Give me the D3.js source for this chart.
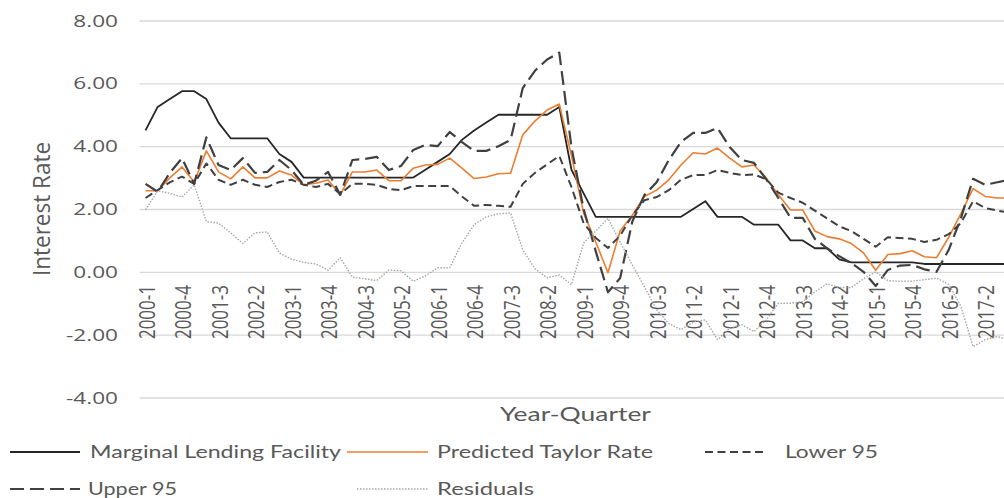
<!DOCTYPE html>
<html>
<head>
<meta charset="utf-8">
<script src="https://cdn.jsdelivr.net/npm/d3@7"></script>
<style>
	body { margin: 0; background: #fff; }
	svg { display: block; }
</style>
</head>
<body>
<svg id="chart" width="1004" height="498"></svg>
<script>
// Categories (year-quarter)
const quarters = [
	"2000-1","2000-2","2000-3","2000-4","2001-1","2001-2","2001-3","2001-4",
	"2002-1","2002-2","2002-3","2002-4","2003-1","2003-2","2003-3","2003-4",
	"2004-1","2004-2","2004-3","2004-4","2005-1","2005-2","2005-3","2005-4",
	"2006-1","2006-2","2006-3","2006-4","2007-1","2007-2","2007-3","2007-4",
	"2008-1","2008-2","2008-3","2008-4","2009-1","2009-2","2009-3","2009-4",
	"2010-1","2010-2","2010-3","2010-4","2011-1","2011-2","2011-3","2011-4",
	"2012-1","2012-2","2012-3","2012-4","2013-1","2013-2","2013-3","2013-4",
	"2014-1","2014-2","2014-3","2014-4","2015-1","2015-2","2015-3","2015-4",
	"2016-1","2016-2","2016-3","2016-4","2017-1","2017-2","2017-3","2017-4"
];

// Axis labels shown (every third quarter)
const xTickLabels = [
	"2000-1","2000-4","2001-3","2002-2","2003-1","2003-4","2004-3","2005-2",
	"2006-1","2006-4","2007-3","2008-2","2009-1","2009-4","2010-3","2011-2",
	"2012-1","2012-4","2013-3","2014-2","2015-1","2015-4","2016-3","2017-2"
];
const yTicks = [8, 6, 4, 2, 0, -2, -4];

// Series values
const lendingFacility = [
	4.5, 5.25, 5.5, 5.75, 5.75, 5.5, 4.75, 4.25, 4.25, 4.25, 4.25, 3.75, 3.5, 3.0,
	3.0, 3.0, 3.0, 3.0, 3.0, 3.0, 3.0, 3.0, 3.0,
	3.25, 3.5, 3.75, 4.2, 4.5, 4.75, 5.0, 5.0, 5.0, 5.0, 5.0, 5.25,
	3.25, 2.5, 1.75,
	1.75, 1.75, 1.75, 1.75, 1.75, 1.75, 1.75,
	2.0, 2.25, 1.75, 1.75, 1.75, 1.5, 1.5, 1.5, 1.0, 1.0, 0.75, 0.75,
	0.4, 0.3, 0.3, 0.3, 0.3, 0.3, 0.3,
	0.25, 0.25, 0.25, 0.25, 0.25, 0.25, 0.25, 0.25
];
const predictedTaylor = [
	2.58, 2.58, 2.99, 3.34, 2.86, 3.85, 3.18, 2.96, 3.34, 2.99, 2.99, 3.21, 3.08, 2.77,
	2.82, 2.92, 2.45, 3.18, 3.18, 3.24, 2.9, 2.9, 3.3, 3.4, 3.42, 3.62, 3.3, 2.97, 3.02,
	3.12, 3.14, 4.36, 4.8, 5.15, 5.34, 3.7, 1.87, 0.95, -0.03, 1.3, 1.8, 2.4, 2.6,
	2.93, 3.4, 3.79, 3.75, 3.94, 3.62, 3.34, 3.4, 2.99, 2.45, 1.97, 1.97, 1.3, 1.12,
	1.05, 0.9, 0.6, 0.05, 0.55, 0.58, 0.67, 0.48, 0.45, 1.1, 1.85, 2.65, 2.4, 2.35, 2.35
];
const lower95 = [
	2.35, 2.6, 2.85, 3.03, 2.8, 3.45, 2.93, 2.77, 2.93, 2.77, 2.7, 2.86, 2.93, 2.77,
	2.7, 2.8, 2.48, 2.8, 2.8, 2.77, 2.64, 2.6, 2.73, 2.73, 2.73, 2.73, 2.4, 2.1, 2.13,
	2.1, 2.07, 2.8, 3.15, 3.42, 3.69, 2.7, 1.55, 1.08, 0.76, 1.15, 1.8, 2.28, 2.38,
	2.6, 2.93, 3.08, 3.08, 3.24, 3.15, 3.08, 3.1, 2.95, 2.52, 2.35, 2.2, 1.95, 1.7,
	1.45, 1.3, 1.05, 0.8, 1.1, 1.08, 1.05, 0.95, 1.02, 1.2, 1.55, 2.25, 2.03, 1.95, 1.88
];
const upper95 = [
	2.8, 2.55, 3.15, 3.62, 2.8, 4.28, 3.4, 3.24, 3.62, 3.15, 3.18, 3.56, 3.24, 2.77,
	2.9, 3.18, 2.45, 3.56, 3.59, 3.66, 3.24, 3.37, 3.88, 4.04, 4.0, 4.45, 4.13, 3.85, 3.85,
	4.0, 4.2, 5.85, 6.4, 6.76, 6.98, 3.97, 2.0, 0.65, -0.65, -0.2, 1.6, 2.45, 2.85,
	3.56, 4.13, 4.42, 4.42, 4.58, 3.97, 3.56, 3.47, 2.95, 2.35, 1.72, 1.72, 1.05, 0.75,
	0.5, 0.28, 0.0, -0.45, 0.06, 0.2, 0.22, 0.08, 0.0, 0.7, 1.7, 2.96, 2.77, 2.85, 2.93
];
const residuals = [
	1.97, 2.58, 2.5, 2.38, 2.77, 1.6, 1.55, 1.24, 0.9, 1.24, 1.27, 0.6, 0.4, 0.3, 0.25,
	0.05, 0.45, -0.17, -0.22, -0.28, 0.06, 0.03, -0.3, -0.13, 0.13, 0.13, 0.92, 1.5, 1.75, 1.85, 1.87,
	0.7, 0.1, -0.19, -0.1, -0.41, 0.92, 1.3, 1.7, 0.95, 0.22, -0.48, -1.2,
	-1.65, -1.84, -1.6, -1.53, -2.16, -1.8, -1.68, -1.9, -1.53, -1.0, -1.0, -0.95, -0.64, -0.38,
	-0.5, -0.5, -0.22, 0.0, -0.28, -0.3, -0.3, -0.25, -0.2, -0.4, -1.1, -2.38, -2.16, -2.06, -2.16
];

// Series styles (legend order)
const series = [
	{ name: "Marginal Lending Facility", values: lendingFacility, color: "#262626", width: 1.8, dash: null },
	{ name: "Predicted Taylor Rate", values: predictedTaylor, color: "#ed7d31", width: 1.6, dash: null },
	{ name: "Lower 95", values: lower95, color: "#404040", width: 2, dash: "8,4.5" },
	{ name: "Upper 95", values: upper95, color: "#404040", width: 2.2, dash: "14,6" },
	{ name: "Residuals", values: residuals, color: "#a6a6a6", width: 1.4, dash: "1.5,1.5" }
];

var chart = {};
chart.stretch = 1.33;   // picture is wider than tall
chart.textColor = "#595959";

let svg = d3.select("#chart");

// Scales
let step = 12.17;
let x = d3.scalePoint()
	.domain(quarters)
	.range([145.5, 145.5 + step * (quarters.length - 1)]);
let y = d3.scaleLinear()
	.domain([-4, 8])
	.range([397.5, 20.5]);

let plotLeft = 139.5,
	plotRight = 145.5 + step * (quarters.length - 1) + step / 2;

// Gridlines
svg.append("g")
	.selectAll("line")
	.data(yTicks)
	.enter()
	.append("line")
	.attr("x1", plotLeft)
	.attr("x2", plotRight)
	.attr("y1", d => y(d) + 0.5)
	.attr("y2", d => y(d) + 0.5)
	.attr("stroke", "#d9d9d9")
	.attr("stroke-width", 1.3);

// Y tick labels (plain hyphen for negatives, as in the source)
svg.append("g")
	.selectAll("text")
	.data(yTicks)
	.enter()
	.append("text")
	.attr("transform", d => "translate(118," + y(d) + ") scale(" + chart.stretch + ",1)")
	.attr("dy", "0.36em")
	.attr("text-anchor", "end")
	.style("font-family", "'Open Sans', sans-serif")
	.style("font-size", "17px")
	.style("fill", chart.textColor)
	.text(d => d.toFixed(2));

// X tick labels (rotated)
svg.append("g")
	.selectAll("text")
	.data(xTickLabels)
	.enter()
	.append("text")
	.attr("transform", d => "translate(" + (x(d) + 1) + ",285) scale(" + chart.stretch + ",1) rotate(-90)")
	.attr("dy", "0.36em")
	.attr("text-anchor", "end")
	.style("font-family", "'Open Sans', sans-serif")
	.style("font-size", "17px")
	.style("fill", chart.textColor)
	.text(d => d);

// Lines
let line = d3.line()
	.x((d, i) => x(quarters[i]))
	.y(d => y(d));

svg.append("g")
	.selectAll("path")
	.data(series)
	.enter()
	.append("path")
	.attr("d", d => line(d.values))
	.attr("fill", "none")
	.attr("stroke", d => d.color)
	.attr("stroke-width", d => d.width)
	.attr("stroke-dasharray", d => d.dash)
	.attr("stroke-linejoin", "round");

// Axis titles
svg.append("text")
	.attr("transform", "translate(41,209) scale(" + chart.stretch + ",1) rotate(-90)")
	.attr("dy", "0.36em")
	.attr("text-anchor", "middle")
	.attr("textLength", 134)
	.attr("lengthAdjust", "spacingAndGlyphs")
	.style("font-family", "'Open Sans', sans-serif")
	.style("font-size", "18px")
	.style("fill", chart.textColor)
	.text("Interest Rate");

svg.append("text")
	.attr("x", 500)
	.attr("y", 414)
	.attr("dy", "0.36em")
	.attr("textLength", 151)
	.attr("lengthAdjust", "spacingAndGlyphs")
	.style("font-family", "Lato, sans-serif")
	.style("font-size", "19px")
	.style("fill", chart.textColor)
	.text("Year-Quarter");

// Legend
const legendPos = [
	{ lx: 10, lw: 70, tx: 90, tw: 251, y: 452 },
	{ lx: 347, lw: 81, tx: 437, tw: 216, y: 452 },
	{ lx: 705, lw: 60, tx: 785, tw: 93, y: 452 },
	{ lx: 10, lw: 70, tx: 88, tw: 89, y: 489 },
	{ lx: 357, lw: 71, tx: 437, tw: 97, y: 489 }
];

let legend = svg.append("g")
	.selectAll("g")
	.data(series)
	.enter()
	.append("g");

legend.append("line")
	.attr("x1", (d, i) => legendPos[i].lx)
	.attr("x2", (d, i) => legendPos[i].lx + legendPos[i].lw)
	.attr("y1", (d, i) => legendPos[i].y)
	.attr("y2", (d, i) => legendPos[i].y)
	.attr("stroke", d => d.color)
	.attr("stroke-width", d => d.width)
	.attr("stroke-dasharray", d => d.dash);

legend.append("text")
	.attr("x", (d, i) => legendPos[i].tx)
	.attr("y", (d, i) => legendPos[i].y)
	.attr("dy", "0.36em")
	.attr("textLength", (d, i) => legendPos[i].tw)
	.attr("lengthAdjust", "spacingAndGlyphs")
	.style("font-family", "Lato, sans-serif")
	.style("font-size", "18px")
	.style("fill", chart.textColor)
	.text(d => d.name);
</script>
</body>
</html>
